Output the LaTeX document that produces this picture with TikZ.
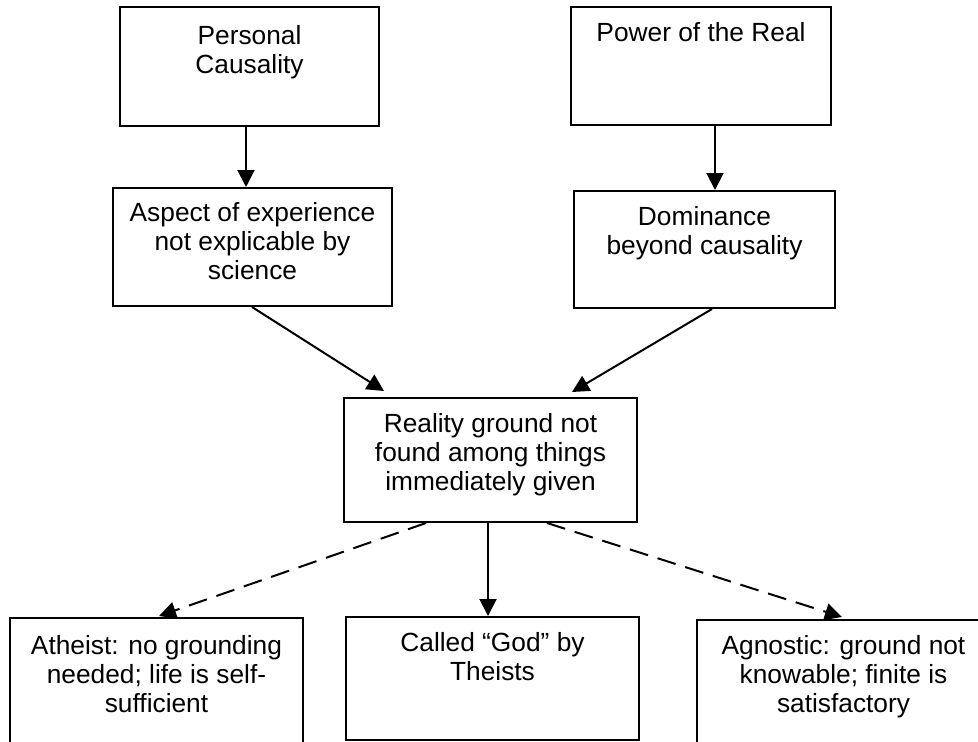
\documentclass[tikz,border=0pt]{standalone}
\usepackage{fontspec}
\setmainfont{Liberation Sans}
\usetikzlibrary{arrows.meta,fit,calc}
\begin{document}
\begin{tikzpicture}[x=1pt,y=-1pt,
  box/.style={draw=black,line width=2pt,inner sep=0pt,fill=none},
  txt/.style={anchor=north,inner sep=0pt,align=center,font=\fontsize{26.3}{29}\selectfont},
  arr/.style={line width=2pt,-{Triangle[length=17pt,width=17pt]}},
  darr/.style={arr,dash pattern=on 19pt off 10pt}]
\useasboundingbox (0,0) rectangle (978,742);
\clip (0,0) rectangle (978,742);
\fill[white] (0,0) rectangle (978,742);
% boxes
\node[box,fit={(120,7) (379,126)}] (b1) {};
\node[box,fit={(571,7) (831,125)}] (b2) {};
\node[box,fit={(113,188) (392,306)}] (b3) {};
\node[box,fit={(574,191) (835,308)}] (b4) {};
\node[box,fit={(344,398) (637,522)}] (b5) {};
\node[box,fit={(10,618) (303,770)}] (b7) {};
\node[box,fit={(346,617) (639,740)}] (b6) {};
\node[box,fit={(697,620) (990,770)}] (b8) {};
% texts
\node[txt] (t1) at ([yshift=-19pt]b1.north) {Personal\\Causality};
\node[txt] (t2) at ([yshift=-16pt]b2.north) {Power of the Real};
\node[txt] (t3) at ([yshift=-15pt]b3.north) {Aspect of experience\\not explicable by\\science};
\node[txt] (t4) at ([yshift=-16pt]b4.north) {Dominance\\beyond causality};
\node[txt] (t5) at ([yshift=-16pt]b5.north) {Reality ground not\\found among things\\immediately given};
\node[txt] (t7) at ([yshift=-18pt]b7.north) {Atheist: no grounding\\needed; life is self-\\sufficient};
\node[txt] (t6) at ([yshift=-16pt]b6.north) {Called “God” by\\Theists};
\node[txt] (t8) at ([yshift=-16pt]b8.north) {Agnostic: ground not\\knowable; finite is\\satisfactory};
% connectors
\draw[arr] ($(b1.south west)+(127,0)$) -- ($(b3.north west)+(134,0)$);
\draw[arr] ($(b2.south west)+(145,0)$) -- ($(b4.north west)+(142,0)$);
\draw[arr] ($(b3.south west)+(140,0)$) -- ($(b5.north west)+(41,-6)$);
\draw[arr] ($(b4.south west)+(139,0)$) -- ($(b5.north west)+(229,-5)$);
\draw[arr] ($(b5.south west)+(145,0)$) -- ($(b6.north west)+(143,0)$);
\draw[darr] ($(b5.south west)+(83,0)$) -- ($(b7.north west)+(150,-1)$);
\draw[darr] ($(b5.south west)+(204,0)$) -- ($(b8.north west)+(146,-2)$);
\end{tikzpicture}
\end{document}
